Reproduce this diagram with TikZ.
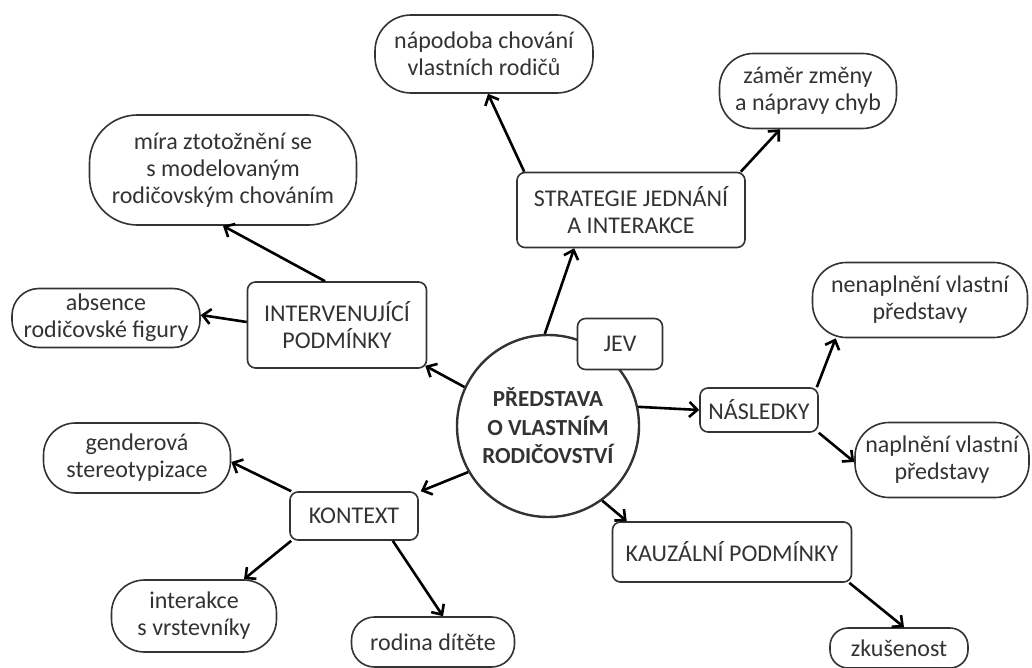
\documentclass[tikz,border=0pt]{standalone}
\usepackage{fontspec}
\setmainfont{Carlito}
\usetikzlibrary{arrows.meta,calc}
\definecolor{bord}{HTML}{333333}
\definecolor{txt}{HTML}{333333}
\begin{document}
\begin{tikzpicture}[x=1pt,y=-1pt,
  every node/.style={font=\fontsize{24}{27}\selectfont, text=txt, align=center, inner sep=0pt},
  box/.style={draw=bord, line width=1.6pt, rounded corners=8pt},
  pill/.style={draw=bord, line width=1.6pt},
  arr/.style={line width=2.6pt, -{Straight Barb[length=8pt,width=15pt]}, draw=black}]
\useasboundingbox[fill=white] (0,0) rectangle (1032,668);

% centre
\node[circle, draw=bord, line width=2.4pt, minimum size=182pt, font=\fontsize{23}{28.5}\selectfont\bfseries] (c) at (548,426) {PŘEDSTAVA\\O VLASTNÍM\\RODIČOVSTVÍ};
\node[box, minimum width=85pt, minimum height=51pt, fill=white] (jev) at (620,344) {JEV};

% category boxes
\node[box, minimum width=228pt, minimum height=75pt] (strat) at (631,210) {STRATEGIE JEDNÁNÍ\\A INTERAKCE};
\node[box, minimum width=179pt, minimum height=86pt] (int) at (337,325) {INTERVENUJÍCÍ\\PODMÍNKY};
\node[box, minimum width=128pt, minimum height=48pt] (kon) at (354,516) {KONTEXT};
\node[box, minimum width=118pt, minimum height=44pt] (nas) at (759,410) {NÁSLEDKY};
\node[box, minimum width=239pt, minimum height=60pt] (kau) at (732,552) {KAUZÁLNÍ PODMÍNKY};

% leaves
\node[pill, rounded corners=36pt, minimum width=218pt, minimum height=78pt] (nap) at (484,54) {nápodoba chování\\vlastních rodičů};
\node[pill, rounded corners=34pt, minimum width=177pt, minimum height=75pt] (zam) at (808,91) {záměr změny\\a nápravy chyb};
\node[pill, rounded corners=48pt, minimum width=267pt, minimum height=110pt] (mira) at (223,170) {míra ztotožnění se\\s modelovaným\\rodičovským chováním};
\node[pill, rounded corners=27pt, minimum width=188pt, minimum height=59pt] (abs) at (106,318) {absence\\rodičovské figury};
\node[pill, rounded corners=32pt, minimum width=187pt, minimum height=70pt] (gen) at (137,458) {genderová\\stereotypizace};
\node[pill, rounded corners=33pt, minimum width=165pt, minimum height=72pt] (inter) at (194,616) {interakce\\s vrstevníky};
\node[pill, rounded corners=23pt, minimum width=163pt, minimum height=50pt] (rod) at (433,642) {rodina dítěte};
\node[pill, rounded corners=34pt, minimum width=215pt, minimum height=75pt] (nen) at (920,300) {nenaplnění vlastní\\představy};
\node[pill, rounded corners=34pt, minimum width=174pt, minimum height=75pt] (nap2) at (942,460) {naplnění vlastní\\představy};
\node[pill, rounded corners=18pt, minimum width=138pt, minimum height=40pt] (zk) at (899,648) {zkušenost};

% connectors
\draw[arr] (c.92) -- ([xshift=58pt]strat.south west);
\draw[arr] ([xshift=8pt]strat.north west) -- ([xshift=4pt]nap.south);
\draw[arr] ([xshift=-5pt]strat.north east) -- ([xshift=-28pt]zam.south);
\draw[arr] (c.155) -- ([xshift=-2pt,yshift=3pt]int.south east);
\draw[arr] ([xshift=-12pt]int.north) -- (mira.south);
\draw[arr] ([yshift=3pt]int.west) -- ([yshift=3pt]abs.east);
\draw[arr] (c.210) -- ([xshift=2pt]kon.north east);
\draw[arr] ([xshift=2pt]kon.north west) -- ([yshift=-4pt]gen.east);
\draw[arr] ([xshift=2pt]kon.south west) -- ([xshift=50pt]inter.north);
\draw[arr] ([xshift=-26pt]kon.south east) -- ([xshift=10pt]rod.north);
\draw[arr] (c.12) -- (nas.west);
\draw[arr] ([xshift=-2pt]nas.north east) -- ([xshift=24pt]nen.south west);
\draw[arr] (nas.south east) -- ([yshift=-2pt]nap2.west);
\draw[arr] (c.-54) -- ([xshift=15pt]kau.north west);
\draw[arr] ([xshift=-3pt]kau.south east) -- ([xshift=5pt]zk.north);
\end{tikzpicture}
\end{document}
